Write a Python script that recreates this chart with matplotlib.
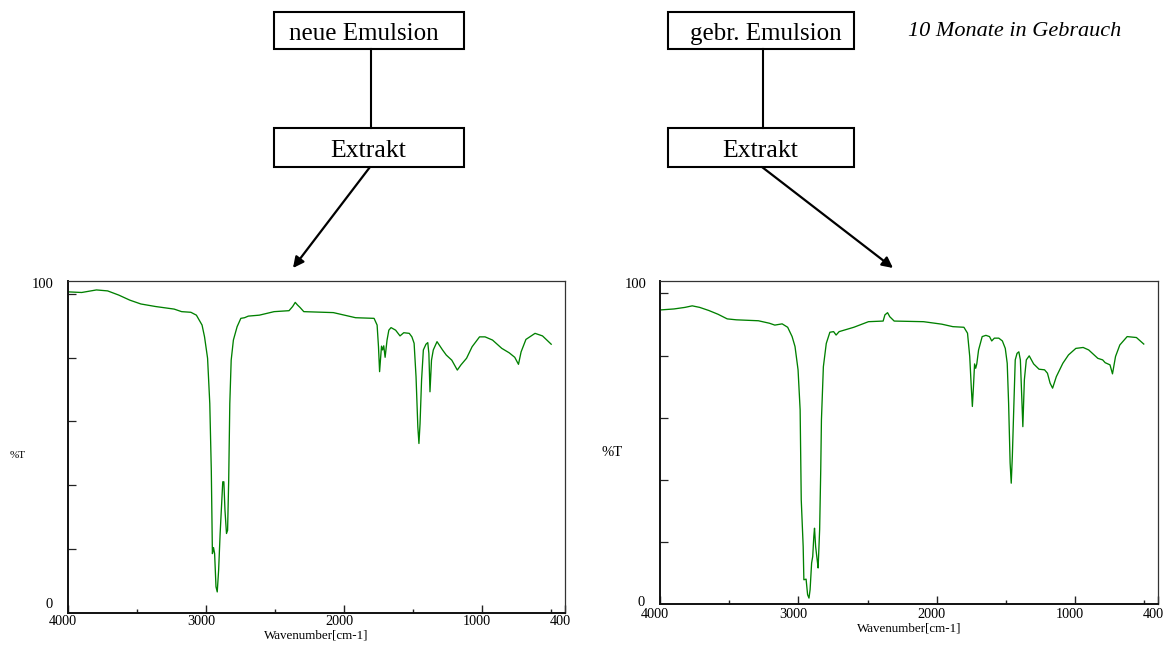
import matplotlib
matplotlib.use("Agg")
import matplotlib.pyplot as plt
from matplotlib.patches import Rectangle, FancyArrowPatch
from matplotlib.transforms import ScaledTranslation

plt.rcParams["font.family"] = ["Liberation Serif", "DejaVu Serif"]

# IR spectrum of the extract from the fresh emulsion (wavenumber in cm-1, %T)
wn_new = [4000, 3901, 3794, 3713, 3633, 3552, 3472, 3365, 3231, 3177, 3110, 3070,
          3029, 3011, 2989, 2973, 2962, 2954, 2946, 2938, 2928, 2919, 2909, 2898,
          2887, 2879, 2871, 2863, 2852, 2844, 2836, 2828, 2818, 2802, 2775, 2748,
          2721, 2694, 2614, 2507, 2399, 2373, 2354, 2338, 2319, 2292, 2078, 1917,
          1783, 1761, 1751, 1743, 1735, 1729, 1721, 1713, 1703, 1689, 1676, 1660,
          1627, 1595, 1568, 1528, 1509, 1493, 1479, 1466, 1458, 1450, 1439, 1426,
          1407, 1394, 1386, 1378, 1367, 1354, 1327, 1287, 1260, 1220, 1180, 1154,
          1113, 1073, 1019, 979, 925, 858, 804, 764, 737, 718, 683, 617, 563, 500]
t_new = [100.6, 100.4, 101.2, 100.9, 99.6, 98.0, 96.8, 96.0, 95.2, 94.4, 94.2, 93.3,
         90.2, 86.5, 79.8, 65.6, 44.7, 18.6, 20.5, 18.6, 8.2, 6.6, 13.4, 24.9,
         34.3, 41.1, 41.1, 32.2, 24.9, 25.9, 41.6, 65.6, 79.2, 85.5, 89.7, 92.3,
         92.5, 93.0, 93.3, 94.4, 94.7, 96.0, 97.3, 96.5, 95.7, 94.4, 94.1, 92.5,
         92.3, 90.2, 83.4, 75.6, 80.3, 83.6, 82.4, 83.7, 80.1, 85.5, 88.6, 89.4,
         88.6, 86.8, 87.8, 87.6, 86.5, 84.5, 74.0, 58.3, 53.1, 59.3, 72.9, 82.4,
         84.2, 84.7, 81.3, 69.3, 79.2, 82.4, 85.0, 82.4, 80.8, 79.2, 76.1, 77.7,
         79.8, 83.4, 86.5, 86.5, 85.5, 82.9, 81.5, 80.1, 77.9, 81.8, 85.7, 87.6, 86.8, 84.2]

# IR spectrum of the extract from the used emulsion (10 months in service)
wn_used = [3992, 3899, 3820, 3767, 3713, 3647, 3581, 3514, 3448, 3289, 3209, 3170,
           3117, 3077, 3045, 3024, 3002, 2987, 2979, 2965, 2960, 2944, 2933, 2923,
           2915, 2904, 2896, 2888, 2883, 2875, 2864, 2857, 2846, 2838, 2833, 2819,
           2798, 2772, 2745, 2727, 2705, 2599, 2493, 2387, 2374, 2355, 2339, 2307,
           2095, 1963, 1883, 1803, 1777, 1761, 1750, 1742, 1734, 1726, 1718, 1710,
           1697, 1671, 1644, 1618, 1602, 1583, 1551, 1525, 1504, 1490, 1480, 1469,
           1461, 1453, 1443, 1432, 1419, 1406, 1395, 1385, 1377, 1366, 1352, 1331,
           1299, 1260, 1220, 1199, 1180, 1162, 1135, 1088, 1047, 994, 941, 901,
           835, 800, 782, 747, 729, 707, 676, 623, 556, 503]
t_used = [94.7, 95.0, 95.5, 96.0, 95.5, 94.5, 93.3, 91.8, 91.5, 91.2, 90.4, 89.8,
          90.2, 89.1, 86.1, 82.9, 75.4, 62.5, 33.6, 18.5, 7.8, 8.0, 3.0, 1.9,
          4.6, 13.2, 15.3, 21.8, 24.4, 18.5, 14.3, 11.6, 23.9, 43.2, 59.3, 76.4,
          83.9, 87.5, 87.7, 86.6, 87.7, 89.1, 90.9, 91.1, 93.1, 93.8, 92.5, 91.1,
          90.9, 90.1, 89.3, 89.1, 87.2, 79.7, 70.0, 63.6, 70.0, 77.3, 75.9, 77.3,
          81.8, 86.1, 86.5, 86.1, 84.7, 85.6, 85.6, 84.7, 82.3, 77.5, 64.7, 45.4,
          38.9, 47.5, 62.5, 78.6, 80.7, 81.2, 78.6, 66.8, 57.1, 72.2, 78.6, 79.9,
          77.3, 75.6, 75.4, 74.3, 71.1, 69.5, 73.2, 77.5, 80.2, 82.3, 82.6, 81.8,
          79.1, 78.6, 77.7, 77.0, 74.1, 79.7, 83.4, 86.1, 85.8, 83.7]

x_major = [4000, 3000, 2000, 1000, 400]
x_major_labels = ["4000", "3000", "2000", "1000", "400"]
x_minor = [3500, 2500, 1500, 500]
y_ticks = [20, 40, 60, 80, 100]

sample_labels = ["neue Emulsion", "gebr. Emulsion"]
extract_label = "Extrakt"
usage_note = "10 Monate in Gebrauch"

W, H = 1165, 655
fig = plt.figure(figsize=(W / 100, H / 100), dpi=100)


def px_axes(x0, y0, x1, y1):
    return fig.add_axes([x0 / W, 1 - y1 / H, (x1 - x0) / W, (y1 - y0) / H])


def spectrum(ax, wn, t, label_pad):
    ax.plot(wn, t, color="#008000", lw=0.95)
    ax.set_xlim(4000, 400)
    ax.set_ylim(0, 104)
    ax.set_xticks(x_major)
    ax.set_xticklabels(x_major_labels)
    ax.set_xticks(x_minor, minor=True)
    ax.set_yticks(y_ticks)
    ax.set_yticklabels([])
    ax.tick_params(axis="x", which="major", direction="in", length=5.8, width=1.0,
                   labelsize=10.3, pad=label_pad, color="#222222")
    ax.tick_params(axis="x", which="minor", direction="in", length=2.9, width=1.0,
                   color="#222222")
    ax.tick_params(axis="y", which="major", direction="in", length=5.8, width=0.9,
                   color="#222222")
    shift = ScaledTranslation(-5 / 100, 0, fig.dpi_scale_trans)
    for lab in ax.get_xticklabels():
        lab.set_transform(lab.get_transform() + shift)
    for side in ("left", "bottom"):
        ax.spines[side].set_linewidth(1.4)
        ax.spines[side].set_color("#111111")
    for side in ("top", "right"):
        ax.spines[side].set_linewidth(0.9)
        ax.spines[side].set_color("#333333")
    ax.set_xlabel("Wavenumber[cm-1]", fontsize=9.4, labelpad=1)


# spectra panels
ax1 = px_axes(68, 281, 565, 613)
spectrum(ax1, wn_new, t_new, 1.5)
ax2 = px_axes(660, 281, 1158, 604)
spectrum(ax2, wn_used, t_used, 3.0)

# overlay in pixel coordinates for the flow diagram and corner labels
ov = fig.add_axes([0, 0, 1, 1], zorder=5)
ov.set_xlim(0, W)
ov.set_ylim(H, 0)
ov.axis("off")
ov.patch.set_alpha(0)

# y-axis end labels and %T
ov.text(54, 285, "100", ha="right", va="center", fontsize=10.5)
ov.text(53, 605, "0", ha="right", va="center", fontsize=10.5)
ov.text(17.5, 456, "%T", ha="center", va="center", fontsize=8)
ov.text(647, 285, "100", ha="right", va="center", fontsize=10.5)
ov.text(645, 602, "0", ha="right", va="center", fontsize=10.5)
ov.text(612, 452, "%T", ha="center", va="center", fontsize=10.5)

box_lw = 1.5


def flow(x0, x1, label, text_dx, arrow_tip):
    cx = (x0 + x1) / 2
    ov.add_patch(Rectangle((x0, 12), x1 - x0, 37, fill=False, lw=box_lw, ec="black"))
    ov.add_patch(Rectangle((x0, 128), x1 - x0, 39, fill=False, lw=box_lw, ec="black"))
    ov.text(cx + text_dx, 40, label, ha="center", va="baseline", fontsize=18)
    ov.text(cx - 1, 157, extract_label, ha="center", va="baseline", fontsize=18.5)
    ov.plot([cx + 2, cx + 2], [49, 128], color="black", lw=box_lw)
    ov.add_patch(FancyArrowPatch((cx + 1, 167), arrow_tip, arrowstyle="-|>",
                                 mutation_scale=16, lw=1.6, color="black",
                                 shrinkA=0, shrinkB=0))


flow(274, 464, sample_labels[0], -5, (293, 268))
flow(668, 854, sample_labels[1], 5, (893, 268))
ov.text(1015, 36, usage_note, ha="center", va="baseline", fontsize=16, style="italic")

fig.savefig("out.png", dpi=100)
